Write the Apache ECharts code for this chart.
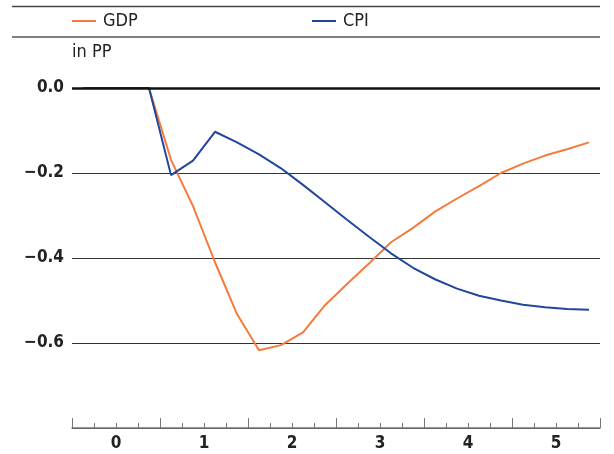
<!DOCTYPE html>
<html>
<head>
<meta charset="utf-8">
<script src="https://cdn.jsdelivr.net/npm/echarts@6/dist/echarts.min.js"></script>
<style>html,body{margin:0;padding:0;background:#fff}#c{width:614px;height:454px}</style>
</head>
<body>
<div id="c"></div>
<script>
const quarters = [-0.375,-0.125,0.125,0.375,0.625,0.875,1.125,1.375,1.625,1.875,2.125,2.375,2.625,2.875,3.125,3.375,3.625,3.875,4.125,4.375,4.625,4.875,5.125,5.375];
const gdp = [0,0,0,0,-0.169,-0.278,-0.41,-0.532,-0.617,-0.605,-0.575,-0.511,-0.461,-0.413,-0.363,-0.329,-0.291,-0.260,-0.231,-0.200,-0.178,-0.159,-0.144,-0.128];
const cpi = [0,0,0,0,-0.205,-0.171,-0.103,-0.128,-0.156,-0.189,-0.228,-0.269,-0.310,-0.350,-0.389,-0.423,-0.450,-0.472,-0.489,-0.500,-0.510,-0.516,-0.520,-0.522];
const yTicks = [0, -0.2, -0.4, -0.6];
const FONT = "'DejaVu Sans Condensed','Liberation Sans Narrow','DejaVu Sans',sans-serif";
const ORANGE = '#f47b3c', BLUE = '#22469c';

const chart = echarts.init(document.getElementById('c'));
chart.setOption({
  animation: false,
  grid: {left: 72, right: 14, top: 88, bottom: 26, containLabel: false},
  graphic: [
    {type:'line', shape:{x1:12,y1:6.5,x2:600,y2:6.5}, style:{stroke:'#444',lineWidth:1.5}},
    {type:'line', shape:{x1:12,y1:37,x2:600,y2:37}, style:{stroke:'#555',lineWidth:1.5}},
    {type:'text', left:72, top:43, style:{text:'in PP', font:"18px "+FONT, fill:'#222'}}
  ],
  legend: [
    {data:['GDP'], left:72, top:12, padding:0, icon:'rect', itemWidth:24, itemHeight:2, itemGap:0,
     textStyle:{fontFamily:FONT, fontSize:18, color:'#222', padding:[0,0,0,2]}},
    {data:['CPI'], left:312, top:12, padding:0, icon:'rect', itemWidth:24, itemHeight:2, itemGap:0,
     textStyle:{fontFamily:FONT, fontSize:18, color:'#222', padding:[0,0,0,2]}}
  ],
  xAxis: [
    {type:'value', min:-0.5, max:5.5, interval:0.25, position:'bottom',
     axisLine:{onZero:false, lineStyle:{color:'#777', width:1.5}},
     axisTick:{inside:true, length:5, lineStyle:{color:'#777'}},
     splitLine:{show:false},
     axisLabel:{margin:7, fontFamily:FONT, fontSize:17, fontWeight:'bold', color:'#222',
       formatter: v => Number.isInteger(v) ? String(v) : ''}},
    {type:'value', min:0, max:6, interval:1, position:'bottom', offset:0,
     axisLine:{show:false, onZero:false},
     axisTick:{inside:true, length:10, lineStyle:{color:'#777'}},
     axisLabel:{show:false}, splitLine:{show:false}}
  ],
  yAxis: {type:'value', min:-0.8, max:0, interval:0.2,
    axisLine:{show:false}, axisTick:{show:false},
    splitLine:{lineStyle:{color:'#333', width:1}},
    axisLabel:{margin:8, fontFamily:FONT, fontSize:17, fontWeight:'bold', color:'#222',
      formatter: v => yTicks.some(t => Math.abs(t - v) < 1e-9) ? (v === 0 ? '0.0' : '\u2212' + Math.abs(v).toFixed(1)) : ''}},
  series: [
    {name:'GDP', type:'line', xAxisIndex:0, showSymbol:false, symbol:'none', color:ORANGE,
     lineStyle:{width:2, color:ORANGE}, data: quarters.map((x,i)=>[x,gdp[i]]), z:3},
    {name:'CPI', type:'line', xAxisIndex:0, showSymbol:false, symbol:'none', color:BLUE,
     lineStyle:{width:2, color:BLUE}, data: quarters.map((x,i)=>[x,cpi[i]]), z:3,
     markLine:{silent:true, symbol:'none', label:{show:false}, z:5,
       lineStyle:{color:'#111', width:2.5, type:'solid'}, data:[{yAxis:0}]}}
  ]
});
</script>
</body>
</html>
